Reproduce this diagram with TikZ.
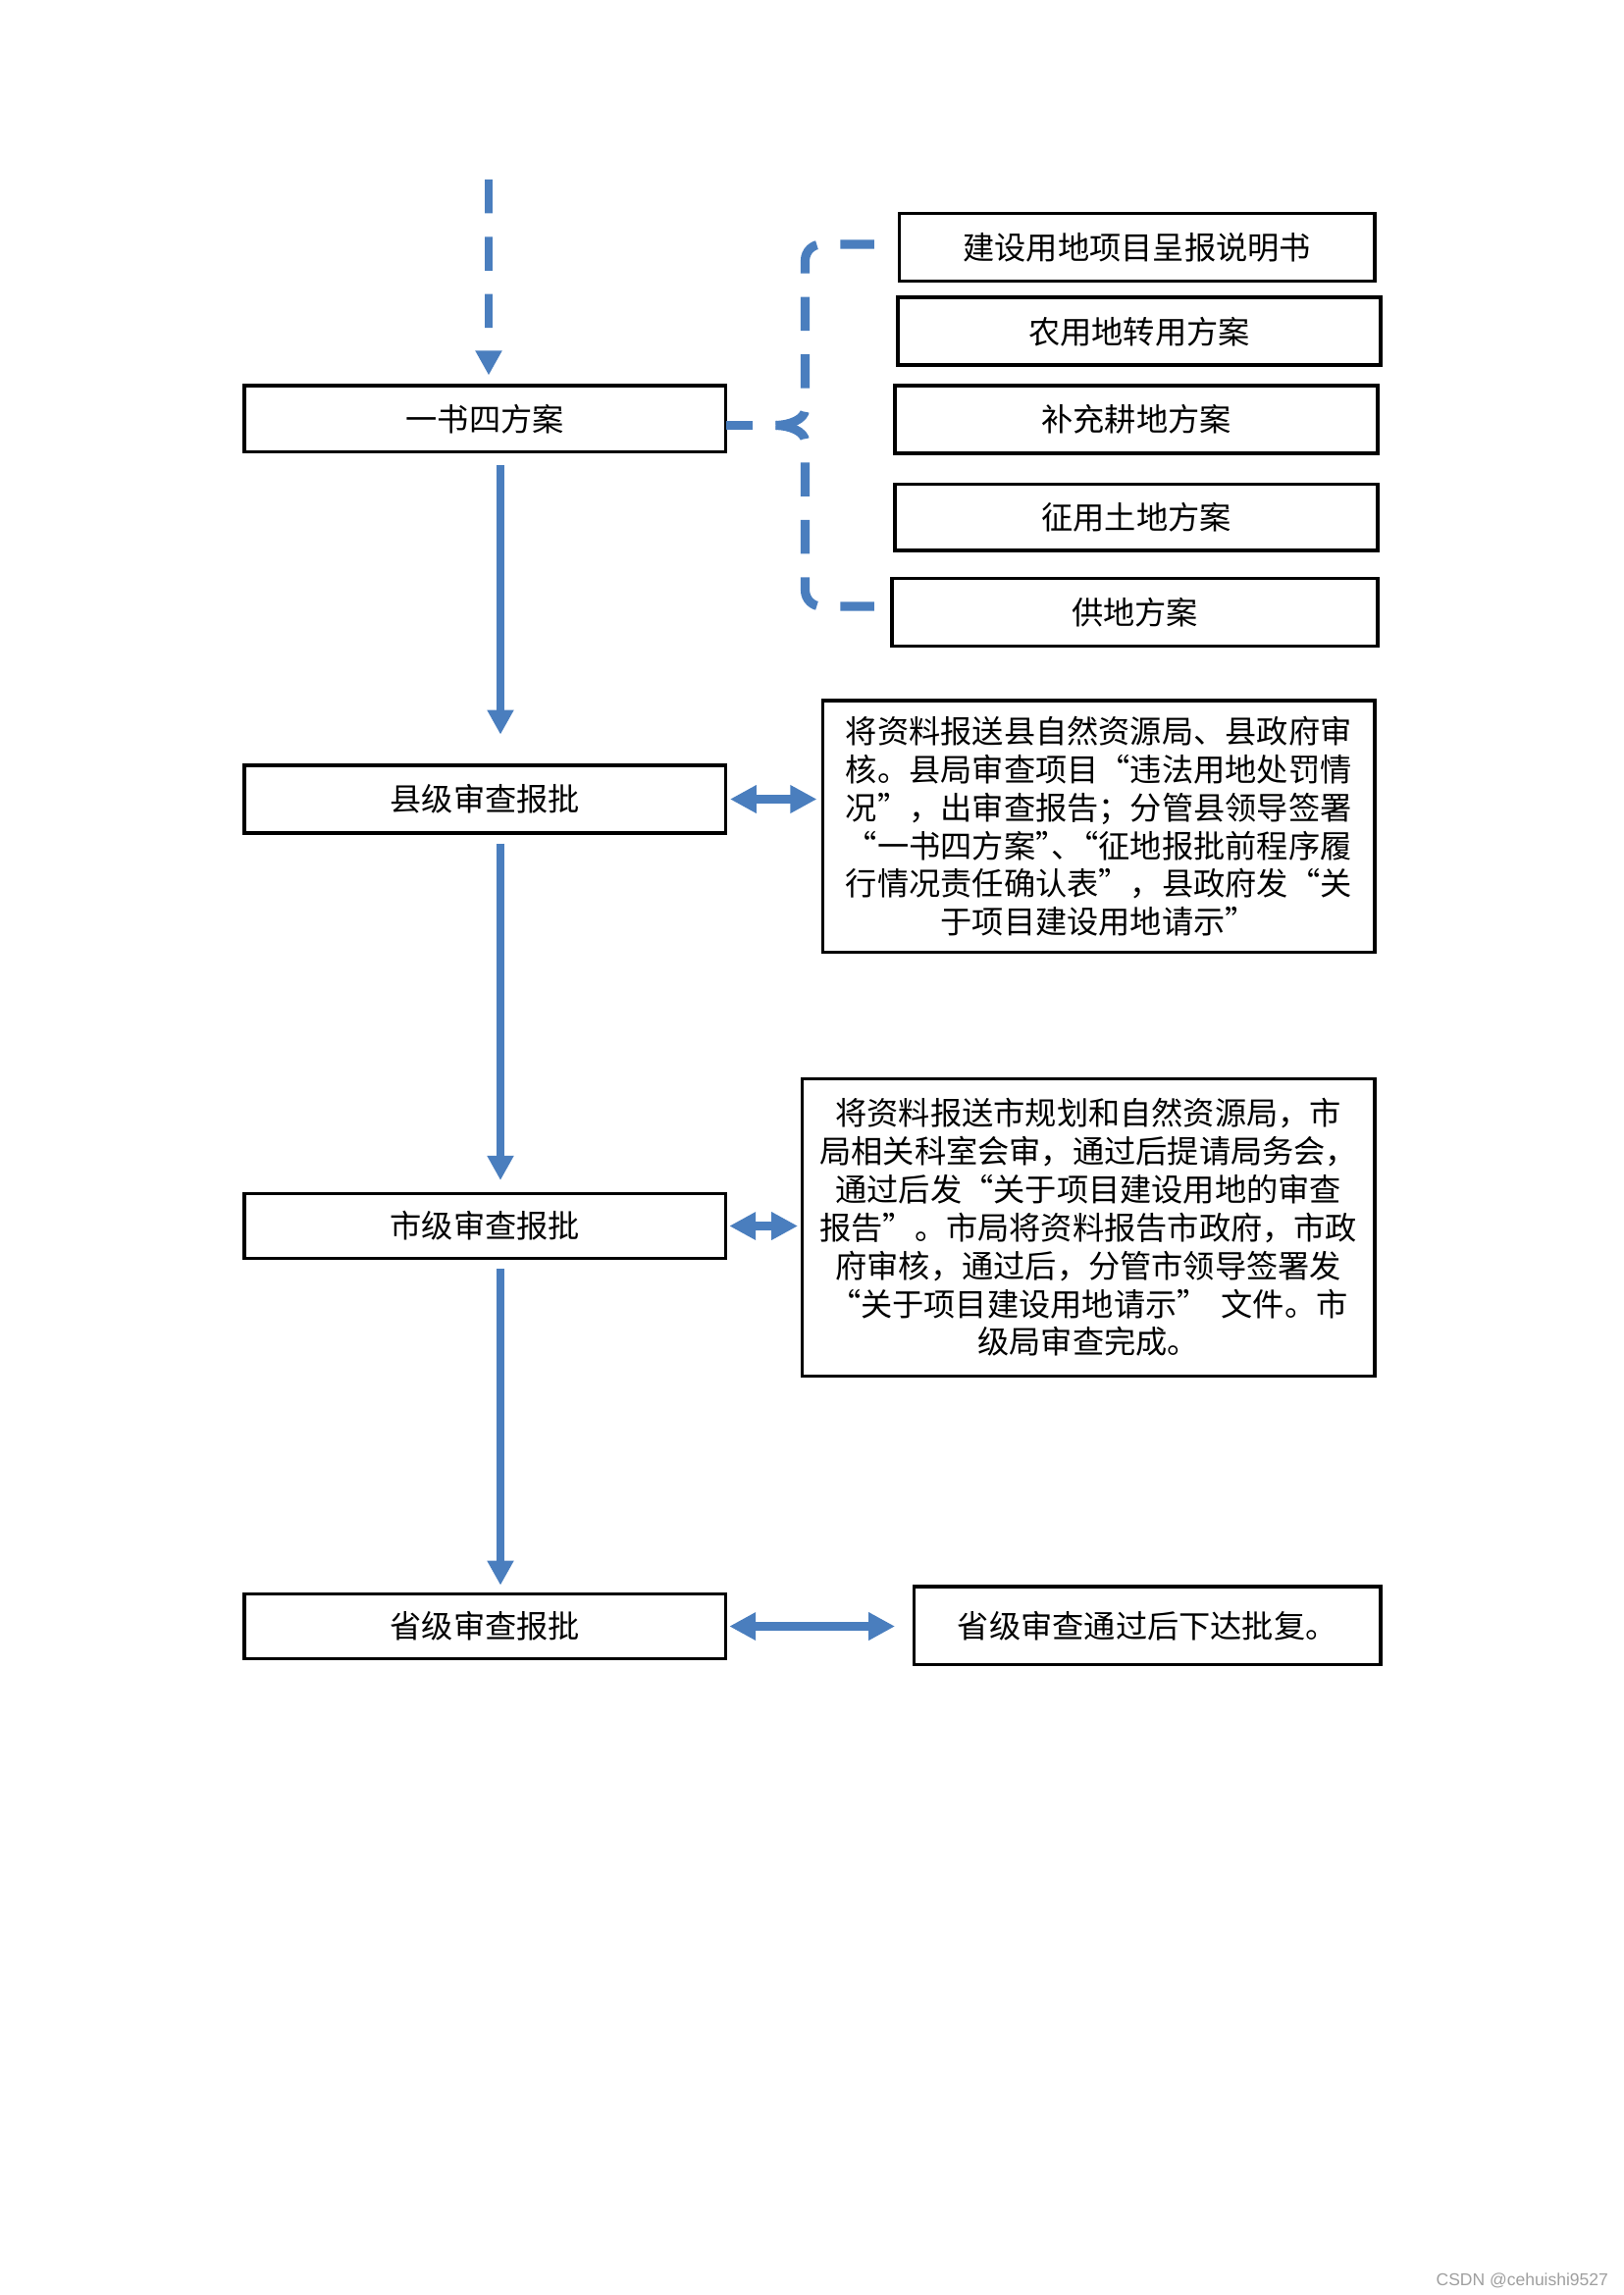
\documentclass[tikz,border=0pt]{standalone}
\usepackage{fontspec}
\setmainfont{Liberation Serif}
\newfontfamily\cjk{Noto Sans CJK SC}
\newfontfamily\wmfont{Liberation Sans}
\usetikzlibrary{arrows.meta}
\definecolor{blu}{RGB}{74,126,190}
\begin{document}
\begin{tikzpicture}[x=0.54pt,y=-0.54pt,
  bx/.style 2 args={draw=black,line width=1.3pt,minimum width=#1*0.54pt,minimum height=#2*0.54pt,
    inner sep=0pt,outer sep=0pt,font=\cjk\fontsize{11.6}{14}\selectfont,align=center},
  varr/.style={draw=blu,line width=2.8pt,-{Triangle[width=9.2pt,length=9pt]}},
  darr/.style={varr,dash pattern=on 12.4pt off 8.6pt},
  brc/.style={draw=blu,line width=3.3pt,dash pattern=on 12.42pt off 8.64pt},
  dbl/.style={draw=blu,line width=3.3pt,{Triangle[width=9.7pt,length=9.7pt]}-{Triangle[width=9.7pt,length=9.7pt]}}]
\useasboundingbox (0,0) rectangle (1102.67,1559.33);
% left column
\node[bx={327}{45}] (A) at (329.5,284.5) {一书四方案};
\node[bx={327}{46}] (B) at (329.5,543) {县级审查报批};
\node[bx={327}{44}] (C) at (329.5,833) {市级审查报批};
\node[bx={327}{44}] (D) at (329.5,1105) {省级审查报批};
% right column
\node[bx={323}{46}] (R1) at (772.5,168) {建设用地项目呈报说明书};
\node[bx={328}{46}] (R2) at (774,225.2) {农用地转用方案};
\node[bx={328}{46}] (R3) at (772,284.8) {补充耕地方案};
\node[bx={328}{45}] (R4) at (772,351.6) {征用土地方案};
\node[bx={330}{46}] (R5) at (771,416) {供地方案};
\node[bx={375}{171}] (Bp) at (746.5,561.5) {将资料报送县自然资源局、县政府审\\
核。县局审查项目“违法用地处罚情\\
况”，出审查报告；分管县领导签署\\
“一书四方案”\kern-0.5em、\kern-0.5em“征地报批前程序履\\
行情况责任确认表”，县政府发“关\\
于项目建设用地请示”};
\node[bx={389}{202}] (Cp) at (739.5,834) {将资料报送市规划和自然资源局，市\\
局相关科室会审，通过后提请局务会，\\
通过后发“关于项目建设用地的审查\\
报告”。市局将资料报告市政府，市政\\
府审核，通过后，分管市领导签署发\\
“关于项目建设用地请示”\hspace{0.4em}文件。市\\
级局审查完成。};
\node[bx={317}{53}] (Dp) at (779.5,1104.5) {省级审查通过后下达批复。};
% top dashed arrow
\coordinate (top) at (332,122);
\draw[darr] (top) -- ([xshift=1.35pt,yshift=3.8pt]A.north);
% vertical arrows
\draw[varr] ([xshift=5.67pt,yshift=-4.9pt]A.south) -- ([xshift=5.67pt,yshift=11.3pt]B.north);
\draw[varr] ([xshift=5.67pt,yshift=-3.8pt]B.south) -- ([xshift=5.67pt,yshift=4.9pt]C.north);
\draw[varr] ([xshift=5.67pt,yshift=-3.8pt]C.south) -- ([xshift=5.67pt,yshift=3.2pt]D.north);
% double arrows
\draw[dbl] ([xshift=1.6pt]B.east) -- ([xshift=-2.2pt]B.east -| Bp.west);
\draw[dbl] ([xshift=1.35pt]C.east) -- ([xshift=-1.6pt]C.east -| Cp.west);
\draw[dbl] ([xshift=1.35pt]D.east) -- ([xshift=-7pt]D.east -| Dp.west);
% brace (two halves drawn outwards from its tip)
\coordinate (bt) at (594,166);
\coordinate (bb) at (594,412);
\coordinate (tip) at (527,289);
\draw[brc] (tip) .. controls (536,289) and (547,285) .. (547,278)
  -- (547,177) .. controls (547,170.9) and (551.9,166) .. (558,166) -- (bt);
\draw[brc] (tip) .. controls (536,289) and (547,293) .. (547,300)
  -- (547,401) .. controls (547,407.1) and (551.9,412) .. (558,412) -- (bb);
\draw[brc,dash phase=12.42pt] (tip) -- (A.east |- tip);
% watermark
\node[anchor=base east,inner sep=0pt,font=\wmfont\fontsize{6.3}{7}\selectfont,text=gray!75] (wm) at (1093,1553) {CSDN @cehuishi9527};
\end{tikzpicture}
\end{document}
